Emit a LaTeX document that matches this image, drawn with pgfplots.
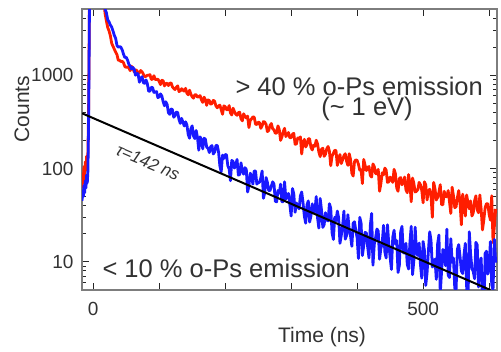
\documentclass[border=0pt]{standalone}
\usepackage{fontspec}
\setmainfont{Liberation Sans}
\usepackage{pgfplots}
\pgfplotsset{compat=1.18}
\definecolor{dred}{RGB}{255,30,0}
\definecolor{dblue}{RGB}{25,25,255}
\definecolor{framegray}{RGB}{125,125,125}
\definecolor{txt}{RGB}{50,50,50}
\begin{document}
\begin{tikzpicture}
\useasboundingbox (0pt,0pt) rectangle (501pt,351pt);
\begin{axis}[at={(82pt,61pt)}, anchor=south west, scale only axis,
 width=415pt, height=281pt,
 xmin=-17, xmax=612, ymode=log, ymin=5, ymax=5100,
 xtick={0,100,...,600}, xticklabels={0,,,,,500,},
 ytick={10,100,1000}, yticklabels={10,100,1000},
 minor ytick={5,6,7,8,9,20,30,40,50,60,70,80,90,200,300,400,500,600,700,800,900,2000,3000,4000,5000},
 tick align=inside, major tick length=7pt, minor tick length=4pt,
 axis line style={framegray, line width=1.6pt},
 every tick/.style={black!85, line width=0.9pt},
 tick label style={font=\fontsize{19}{19}\selectfont, text=txt},
 xticklabel style={yshift=-9pt},
 yticklabel style={xshift=-5pt},
 /pgf/number format/assume math mode=true,
]
\addplot[dred, line width=2.8pt, line join=round] coordinates {
(-17,62) (-16,88) (-15,70) (-14,105) (-13,82) (-12,118) (-11,96) (-10,135) (-9,112) (-8,150) (-7,420) (-6,3000) (-5,30000) (0,80000) (10,60000) (14,9000)
(18,4530) (20,3800) (22,3230) (24,2970) (26,2640) (28,2190) (30,2035) (32,1895) (34,1760) (36,1660) (38,1440) (40,1437) (42,1396) (44,1405) (46,1352) (48,1230) (50,1213) (52,1224) (54,1190) (56,1115) (58,1243) (60,1197) (62,1084) (64,1138) (66,1122) (68,1045) (70,1055) (72,1120) (74,1085) (76,1023) (78,959) (80,970) (82,996) (84,998) (86,1011) (88,898) (90,904) (92,985) (94,898) (96,895) (98,907) (100,853) (102,791) (104,880) (106,869) (108,766) (110,813) (112,816) (114,773) (116,817) (118,825) (120,751) (122,719) (124,700) (126,741) (128,767) (130,667) (132,677) (134,715) (136,688) (138,674) (140,721) (142,640) (144,615) (146,689) (148,625) (150,586) (152,566) (154,616) (156,616) (158,580) (160,588) (162,603) (164,545) (166,510) (168,580) (170,546) (172,474) (174,542) (176,535) (178,488) (180,495) (182,536) (184,525) (186,467) (188,447) (190,468) (192,476) (194,426) (196,381) (198,467) (200,461) (202,425) (204,428) (206,471) (208,394) (210,374) (212,442) (214,407) (216,382) (218,371) (220,396) (222,400) (224,340) (226,324) (228,385) (230,361) (232,347) (234,364) (236,274) (238,327) (240,340) (242,357) (244,355) (246,299) (248,295) (250,313) (252,311) (254,269) (256,286) (258,318) (260,314) (262,296) (264,248) (266,256) (268,289) (270,303) (272,266) (274,259) (276,238) (278,240) (280,286) (282,261) (284,200) (286,218) (288,248) (290,269) (292,220) (294,229) (296,243) (298,213) (300,214) (302,233) (304,238) (306,182) (308,183) (310,212) (312,209) (314,218) (316,143) (318,190) (320,205) (322,170) (324,180) (326,208) (328,208) (330,168) (332,158) (334,178) (336,173) (338,201) (340,183) (342,150) (344,134) (346,160) (348,165) (350,135) (352,142) (354,163) (356,172) (358,153) (360,107) (362,136) (364,145) (366,157) (368,155) (370,108) (372,126) (374,141) (376,113) (378,124) (380,137) (382,144) (384,120) (386,108) (388,144) (390,125) (392,89) (394,83) (396,118) (398,124) (400,122) (402,111) (404,96) (406,97) (408,69) (410,125) (412,109) (414,95) (416,103) (418,105) (420,84) (422,81) (424,112) (426,105) (428,88) (430,88) (432,98) (434,57) (436,69) (438,90) (440,85.5) (442,101) (444,96) (446,71) (448,72) (450,81) (452,76) (454,71) (456,98) (458,88) (460,62) (462,57) (464,78) (466,80) (468,67) (470,70) (472,81) (474,59) (476,55) (478,86) (480,69) (482,44) (484,79) (486,69) (488,56) (490,57) (492,59.5) (494,71) (496,67) (498,58) (500,43) (502,72) (504,67) (506,46) (508,57) (510,60) (512,51) (514,30) (516,71) (518,61) (520,46) (522,49) (524,56) (526,67) (528,41) (530,41) (532,57) (534,50) (536,50) (538,58) (540,44) (542,33) (544,63) (546,51) (548,38) (550,39) (552,49) (554,58) (556,42.5) (558,25) (560,53) (562,44) (564,31) (566,52) (568,43) (570,37) (572,45) (574,31) (576,33.5) (578,45) (580,51) (582,36) (584,33.6) (586,52) (588,36.6) (590,22) (592,28) (594,38) (596,42) (598,42) (600,32.5) (602,28) (604,51) (606,16) (608,24) (610,37)
};
\addplot[dblue, line width=2.8pt, line join=round] coordinates {
(-17,45) (-16,58) (-15,50) (-14,66) (-13,55) (-12,74) (-11,62) (-10,85) (-9,70) (-8,95) (-7,320) (-6,2600) (-5,30000) (0,80000) (10,60000) (15,9000)
(18,5063) (20,4640) (22,3905) (24,3720) (26,3427) (28,3270) (30,2968) (32,2660) (34,2477) (36,2075) (38,1985) (40,2025) (42,1985) (44,1860) (46,1665) (48,1540) (50,1552) (52,1450) (54,1304) (56,1250) (58,1165) (60,1206) (62,1165) (64,996) (66,1041) (68,1030) (70,840) (72,930) (74,961) (76,830) (78,815) (80,888) (82,813) (84,673) (86,673) (88,740) (90,736) (92,652) (94,659) (96,666) (98,574) (100,585) (102,629) (104,597) (106,520) (108,469) (110,518) (112,486) (114,395) (116,380) (118,433) (120,428) (122,354) (124,368) (126,402) (128,397) (130,336) (132,304) (134,344) (136,313) (138,285) (140,316) (142,293) (144,231) (146,211) (148,266) (150,286) (152,222) (154,209) (156,255) (158,216) (160,157) (162,218) (164,202) (166,162) (168,211) (170,206) (172,169) (174,165) (176,148) (178,171) (180,176) (182,143) (184,150) (186,176) (188,177) (190,150) (192,106) (194,92) (196,139) (198,128) (200,141) (202,140) (204,107) (206,99) (208,74) (210,122) (212,119) (214,101) (216,109) (218,125) (220,85) (222,86) (224,115) (226,94) (228,87) (230,102) (232,98) (234,56) (236,65) (238,89) (240,83) (242,68) (244,94) (246,94) (248,68) (250,71) (252,71) (254,79) (256,94) (258,48) (260,55) (262,80) (264,71) (266,58) (268,58) (270,65) (272,72) (274,68) (276,44.5) (278,44) (280,58) (282,54.5) (284,68) (286,44) (288,44) (290,72) (292,47) (294,51) (296,54) (298,41) (300,31) (302,61) (304,53.5) (306,34) (308,42.7) (310,40) (312,37) (314,51) (316,56) (318,43) (320,31) (322,26) (324,40.7) (326,45) (328,26.7) (330,31) (332,41.8) (334,34) (336,34.7) (338,50) (340,29.6) (342,23) (344,47.7) (346,36) (348,23.4) (350,25) (352,33.6) (354,28) (356,27.5) (358,42) (360,37.5) (362,20.5) (364,17.4) (366,30) (368,27.6) (370,35) (372,29.7) (374,15.8) (376,19.2) (378,24.5) (380,35) (382,17.5) (384,19.2) (386,32) (388,21.7) (390,19) (392,14.7) (394,26) (396,26.9) (398,21.7) (400,18.1) (402,10.9) (404,30) (406,26) (408,11.7) (410,14.9) (412,20.7) (414,20.4) (416,14.4) (418,11) (420,24.6) (422,33) (424,9.2) (426,15.4) (428,18.1) (430,22.5) (432,21.3) (434,10.7) (436,13.9) (438,15.8) (440,24.6) (442,12.8) (444,11) (446,25) (448,15.6) (450,11.2) (452,8.3) (454,18.3) (456,21.8) (458,15.5) (460,16.9) (462,7.7) (464,9.2) (466,21) (468,24) (470,12.6) (472,12.4) (474,15.8) (476,9.4) (478,8.4) (480,16.1) (482,24) (484,7.3) (486,10.4) (488,23.5) (490,12.4) (492,11.7) (494,15.9) (496,9.3) (498,6.7) (500,16.5) (502,13.3) (504,5.6) (506,7.6) (508,13) (510,21) (512,16.9) (514,8.8) (516,9.7) (518,10.7) (520,6.5) (522,15.6) (524,19.4) (526,4.6) (528,7.9) (530,13.6) (532,11.5) (534,9.1) (536,22.4) (538,7.2) (540,6.8) (542,17.7) (544,9.9) (546,11) (548,5.2) (550,5.1) (552,13.7) (554,15.3) (556,11.4) (558,8.0) (560,7.5) (562,11.9) (564,15.8) (566,5.4) (568,3.5) (570,21) (572,12.2) (574,8.5) (576,7.9) (578,6.6) (580,16.2) (582,15.2) (584,5.4) (586,9.2) (588,11) (590,3.9) (592,2.2) (594,12.3) (596,13) (598,7.4) (600,8.9) (602,16.5) (604,5.7) (606,5.0) (608,17.4) (610,9.8)
};
\addplot[black, line width=2pt] coordinates {(-17,390) (602,5)};
\node[rotate=-23.4, text=txt, font=\fontsize{17}{17}\selectfont\itshape] at (axis cs:83,117) {τ=142 ns};
\end{axis}
\node[text=txt, anchor=west, font=\fontsize{25.5}{25.5}\selectfont] at (232pt,265pt) {> 40 \% o-Ps emission};
\node[text=txt, font=\fontsize{25.5}{25.5}\selectfont] at (367pt,242pt) {(\textasciitilde{} 1 eV)};
\node[text=txt, anchor=west, font=\fontsize{25.5}{25.5}\selectfont] at (99pt,83pt) {< 10 \% o-Ps emission};
\node[text=txt, font=\fontsize{21}{21}\selectfont] at (322pt,14pt) {Time (ns)};
\node[text=txt, rotate=90, font=\fontsize{21}{21}\selectfont] at (22pt,242pt) {Counts};
\end{tikzpicture}
\end{document}
